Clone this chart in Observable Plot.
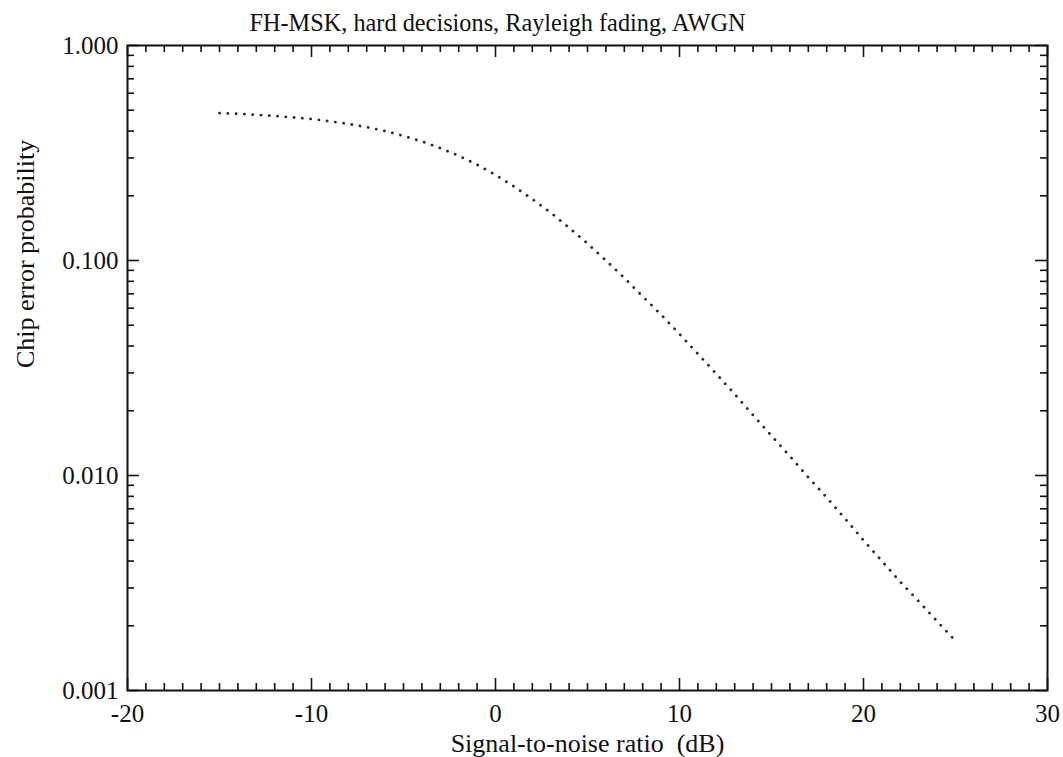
<!DOCTYPE html>
<html>
<head>
<meta charset="utf-8">
<script src="https://cdn.jsdelivr.net/npm/d3@7"></script>
<script src="https://cdn.jsdelivr.net/npm/@observablehq/plot@0.6"></script>
<style>
  html, body { margin: 0; padding: 0; background: #fff; }
</style>
</head>
<body>
<div id="chart"></div>
<script>
const title = "FH-MSK, hard decisions, Rayleigh fading, AWGN";
const xLabel = "Signal-to-noise ratio  (dB)";
const yLabel = "Chip error probability";

const xTicks = [-20, -10, 0, 10, 20, 30];
const xTickLabels = ["-20", "-10", "0", "10", "20", "30"];
const yTicks = [0.001, 0.01, 0.1, 1];
const yTickLabels = ["0.001", "0.010", "0.100", "1.000"];

// curve
const snr = [-15,-14,-13,-12,-11,-10,-9,-8,-7,-6,-5,-4,-3,-2,-1,0,1,2,3,4,5,6,7,8,9,10,11,12,13,14,15,16,17,18,19,20,21,22,23,24,25];
const pe  = [0.485,0.481,0.476,0.470,0.463,0.455,0.444,0.432,0.417,0.400,0.380,0.358,0.333,0.307,0.279,0.250,0.221,0.193,0.167,0.142,0.120,0.100,0.083,0.068,0.056,0.0455,0.0368,0.0297,0.0239,0.0191,0.0153,0.0123,0.0098,0.0079,0.0063,0.0050,0.0040,0.0032,0.0026,0.0021,0.0017];

const data = snr.map((s, i) => ({snr: s, pe: pe[i]}));

// minor tick positions
const xMinor = d3.range(-20, 30.001, 1).filter(v => !xTicks.includes(v));
const yMinor = [];
for (const dec of [0.001, 0.01, 0.1]) for (let k = 2; k <= 9; k++) yMinor.push(dec * k);

const W = 1063, H = 757;
const mL = 127, mR = 16, mT = 45, mB = 67;
const fw = W - mL - mR, fh = H - mT - mB;
const minorLen = 7, majorLen = 12;
const tickStyle = {stroke: "#111", strokeWidth: 1.6};

const chart = Plot.plot({
  width: W,
  height: H,
  marginLeft: mL,
  marginRight: mR,
  marginTop: mT,
  marginBottom: mB,
  style: {fontFamily: "'Liberation Serif', 'Times New Roman', serif", fontSize: "24px", background: "#fff", color: "#111"},
  x: {domain: [-20, 30], axis: null},
  y: {type: "log", domain: [0.001, 1], axis: null},
  marks: [
    // ticks: bottom / top
    Plot.ruleX(xMinor, {x: d => d, insetTop: fh - minorLen, ...tickStyle}),
    Plot.ruleX(xMinor, {x: d => d, insetBottom: fh - minorLen, ...tickStyle}),
    Plot.ruleX(xTicks, {x: d => d, insetTop: fh - majorLen, ...tickStyle}),
    Plot.ruleX(xTicks, {x: d => d, insetBottom: fh - majorLen, ...tickStyle}),
    // ticks: left / right
    Plot.ruleY(yMinor, {y: d => d, insetRight: fw - minorLen, ...tickStyle}),
    Plot.ruleY(yMinor, {y: d => d, insetLeft: fw - minorLen, ...tickStyle}),
    Plot.ruleY(yTicks, {y: d => d, insetRight: fw - majorLen, ...tickStyle}),
    Plot.ruleY(yTicks, {y: d => d, insetLeft: fw - majorLen, ...tickStyle}),
    Plot.frame({stroke: "#111", strokeWidth: 2}),
    // tick labels
    Plot.text(xTicks, {x: d => d, text: (d, i) => xTickLabels[i], frameAnchor: "bottom", lineAnchor: "middle", dy: 23, fontSize: 25}),
    Plot.text(yTicks, {y: d => d, text: (d, i) => yTickLabels[i], frameAnchor: "left", textAnchor: "end", dx: -9, fontSize: 25}),
    // curve
    Plot.line(data, {x: "snr", y: "pe", stroke: "#2a2a2a", strokeWidth: 2.8, strokeDasharray: "0.1,8.2", strokeLinecap: "round"}),
    // titles
    Plot.text([title], {frameAnchor: "top", lineAnchor: "middle", dx: -90, dy: -22, fontSize: 24.3, text: d => d}),
    Plot.text([xLabel], {frameAnchor: "bottom", lineAnchor: "middle", dy: 53, fontSize: 26, text: d => d}),
    Plot.text([yLabel], {frameAnchor: "left", rotate: -90, dx: -102, fontSize: 26, text: d => d})
  ]
});
document.getElementById("chart").append(chart);
</script>
</body>
</html>
